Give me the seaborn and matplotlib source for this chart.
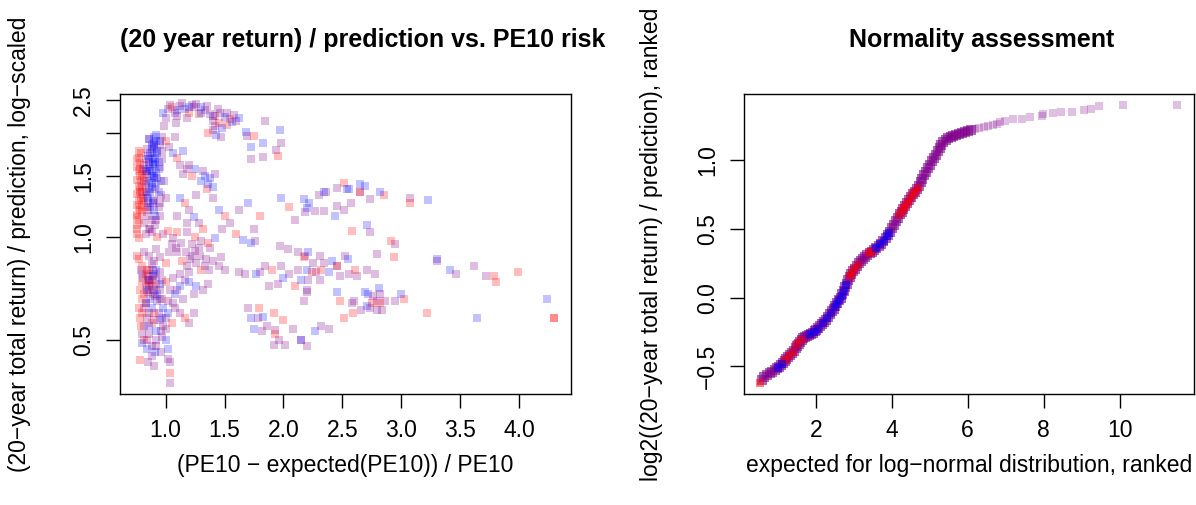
import matplotlib
matplotlib.use("Agg")
import matplotlib.pyplot as plt
import seaborn as sns
import pandas as pd

# ---------------- left panel: ratio vs. PE10 risk ----------------
left_red_x = [0.76, 0.77, 0.76, 0.78, 0.76, 0.77, 0.79, 0.76, 0.78, 0.77, 0.76, 0.78, 0.77, 0.76, 0.78, 0.77, 0.79,
              0.80, 0.81, 0.80, 0.82, 0.84, 0.83,
              0.76, 0.77, 0.78, 0.79, 0.80, 0.76, 0.78, 0.80, 0.82, 0.77,
              0.76, 0.77, 0.76, 0.76, 0.77,
              0.80, 0.83, 0.85, 0.80, 0.82, 0.88, 0.92, 0.86, 0.77, 0.80, 0.78, 0.90, 0.97, 1.05, 1.00,
              0.78, 0.80, 0.83, 0.86, 0.89, 0.84, 0.79, 0.82,
              0.93, 1.02, 1.10, 1.25, 1.36, 1.14, 1.30, 1.16, 1.00, 0.88,
              1.05, 1.20, 1.28, 1.42, 1.55, 1.45, 1.52, 1.75, 1.95, 1.00, 1.10, 1.36,
              1.35, 1.22, 1.16, 1.32, 1.50, 1.60, 2.05,
              2.58, 2.51, 2.65, 2.85, 3.07, 2.91, 2.17, 2.45, 2.32, 2.24, 2.61, 2.94, 2.48, 2.75, 2.82, 3.02,
              2.59, 3.22, 3.79, 3.80, 3.99, 4.30, 4.30, 2.51, 1.92, 2.00, 1.79, 1.93, 1.04, 0.78, 1.80, 2.10, 1.90]
left_red_y = [1.08, 1.12, 1.16, 1.20, 1.24, 1.28, 1.30, 1.33, 1.37, 1.41, 1.46, 1.50, 1.55, 1.60, 1.64, 1.70, 1.75,
              1.24, 1.30, 1.18, 1.27, 1.22, 1.35,
              1.14, 1.22, 1.35, 1.44, 1.52, 1.68, 1.58, 1.40, 1.48, 1.78,
              1.02, 0.99, 1.05, 0.88, 0.86,
              0.82, 0.78, 0.75, 0.74, 0.68, 0.75, 0.72, 0.70, 0.62, 0.60, 0.58, 0.60, 0.66, 0.56, 0.74,
              0.70, 0.66, 0.64, 0.73, 0.68, 0.80, 0.55, 0.50,
              1.00, 1.04, 1.03, 1.00, 0.96, 0.85, 0.80, 0.58, 0.84, 0.56,
              2.38, 2.30, 2.28, 2.25, 2.20, 2.15, 2.12, 1.96, 1.72, 1.90, 1.70, 2.00,
              1.38, 1.50, 1.25, 1.05, 1.15, 1.02, 1.22,
              1.04, 1.43, 1.35, 1.32, 1.25, 0.97, 0.87, 0.82, 0.80, 0.79, 0.80, 0.87, 0.65, 0.64, 0.64, 0.66,
              0.60, 0.60, 0.77, 0.74, 0.79, 0.58, 0.58, 0.58, 0.60, 0.57, 0.62, 0.52, 0.40, 0.436, 1.15, 0.72, 0.80]

left_blue_x = [0.85, 0.87, 0.88, 0.86, 0.90, 0.88, 0.86, 0.89, 0.90, 0.87, 0.90, 0.88, 0.92, 0.90, 0.94, 0.92, 0.85,
               0.90, 0.94, 0.86, 0.93, 0.88, 0.91, 0.96,
               0.84, 0.86, 0.88, 0.90, 0.92, 0.87, 0.89, 0.91, 0.85, 0.93, 0.88, 0.90, 0.86, 0.92, 0.89, 0.87,
               0.91, 0.94, 0.83, 0.95,
               0.98, 1.16, 1.30, 1.50, 1.62, 1.48, 1.43, 1.68, 1.83, 1.72, 1.97, 1.10, 1.20, 1.30, 1.40, 1.56,
               1.30, 1.33, 1.38, 1.40, 1.36, 1.06, 1.15, 1.25,
               1.12, 1.24, 1.45, 1.70, 1.98, 2.22, 1.66, 1.72, 1.42,
               0.90, 0.84, 0.93, 0.95, 0.87, 0.92, 0.84, 0.80, 1.02, 1.08, 1.20, 1.26, 0.98, 1.02, 1.12,
               0.86, 0.89, 0.92, 0.95, 0.83, 0.88, 0.97, 1.00, 0.91, 0.86,
               2.17, 2.34, 2.54, 2.56, 2.65, 2.69, 2.82, 3.23, 2.20, 2.44, 2.71, 2.21, 2.41, 2.55, 2.20, 2.39,
               2.45, 2.72, 2.69, 2.81, 3.00, 2.71, 3.30, 3.41, 4.24, 3.64, 2.27, 1.83, 1.75, 1.72, 1.77, 2.15,
               2.00, 2.15]
left_blue_y = [1.30, 1.35, 1.40, 1.45, 1.50, 1.55, 1.60, 1.65, 1.70, 1.75, 1.80, 1.85, 1.90, 1.95, 1.58, 1.42, 1.25,
               1.20, 1.35, 1.68, 1.75, 1.50, 1.62, 1.45,
               1.32, 1.38, 1.43, 1.48, 1.53, 1.57, 1.63, 1.68, 1.72, 1.78, 1.82, 1.88, 1.92, 1.98, 1.27, 1.22,
               1.15, 1.65, 1.55, 1.90,
               2.30, 2.36, 2.38, 2.24, 2.22, 2.08, 1.98, 2.02, 1.88, 1.82, 2.05, 2.34, 2.38, 2.30, 2.25, 2.16,
               1.45, 1.50, 1.48, 1.40, 1.42, 1.75, 1.78, 1.58,
               1.30, 1.14, 1.20, 1.25, 1.30, 1.25, 0.98, 0.96, 0.99,
               0.70, 0.70, 0.68, 0.73, 0.66, 0.53, 0.47, 0.49, 0.47, 0.68, 0.74, 0.72, 0.62, 0.60, 0.72,
               0.75, 0.77, 0.80, 0.66, 0.64, 0.62, 0.58, 0.50, 0.46, 0.55,
               1.29, 1.35, 1.38, 1.38, 1.42, 1.41, 1.35, 1.28, 1.21, 1.15, 1.08, 0.90, 0.85, 0.86, 0.80, 0.79,
               0.69, 0.68, 0.69, 0.71, 0.68, 0.63, 0.86, 0.80, 0.66, 0.58, 0.53, 0.585, 0.54, 0.58, 0.78, 0.75,
               0.76, 0.50]

left_purple_x = [0.82, 0.84, 0.86, 0.88, 0.91, 0.95, 0.83, 0.84, 0.82, 0.95, 0.97, 0.95, 0.84, 0.86, 0.97, 0.90, 0.83,
                 0.80, 0.82, 0.84, 0.86, 0.88, 0.90, 0.92, 0.94, 0.96, 0.81, 0.83, 0.85, 0.87, 0.89, 0.91, 0.93,
                 0.95, 0.97, 0.99, 1.00,
                 1.02, 1.08, 1.00, 1.10, 1.12, 1.22, 1.26, 1.33, 1.18, 1.38, 1.46, 1.58, 1.42, 1.40, 1.40, 1.47,
                 1.04, 1.14, 1.24, 1.35, 1.44, 1.52, 1.60, 0.99, 1.09,
                 1.69, 1.84, 1.94, 1.98, 1.83, 1.72,
                 1.03, 1.12, 1.08, 1.18, 1.42, 1.32, 1.20, 1.15, 1.20, 1.28, 1.18, 1.10, 1.26, 1.40, 1.55, 1.62,
                 1.48, 1.75, 2.10, 2.18,
                 0.88, 0.98, 1.06, 1.18, 1.30, 1.38, 1.22, 1.28, 1.76, 1.97, 2.04, 2.12, 2.18, 0.82, 0.86, 0.90,
                 0.95, 1.03, 0.92, 0.88, 1.10, 1.18, 1.22, 1.26, 1.34, 1.20, 1.40, 1.45, 1.50, 1.47, 1.62, 1.67,
                 1.80, 1.84, 1.95, 2.05, 2.20, 1.88, 1.98, 2.12,
                 1.05, 1.09, 1.13, 1.17, 1.21, 1.25, 1.29, 1.33, 1.37, 1.12, 1.16, 1.24,
                 0.86, 0.90, 0.85, 0.92, 0.80, 0.95, 0.88, 1.04, 1.06, 1.15, 1.32, 1.36, 0.84, 0.82, 0.95, 1.08,
                 0.86, 0.97, 1.00, 1.12, 1.20, 1.24, 0.88, 0.92, 0.96, 0.85, 0.90, 1.02, 1.04, 1.04, 1.86, 2.08,
                 2.20, 1.96, 1.82, 1.93, 2.01, 1.92, 1.70, 1.78,
                 0.79, 0.81, 0.83, 0.85, 0.87, 0.89, 0.91, 0.93, 0.95, 0.97, 0.82, 0.86, 0.90, 0.94, 0.98, 0.80,
                 0.84, 0.88, 0.92, 0.96, 1.00, 1.02, 1.06, 1.10,
                 2.30, 2.36, 2.45, 2.65, 2.73, 3.07, 2.27, 2.34, 2.45, 2.51, 2.57, 2.73, 2.95, 2.79, 2.31, 2.52,
                 2.25, 2.34, 2.45, 2.28, 2.48, 2.56, 2.62, 2.71, 2.78, 2.21, 2.31, 2.20, 2.76, 2.82, 2.17, 2.58,
                 2.60, 2.79, 2.86, 2.95, 2.66, 2.73, 2.79, 2.84, 2.32, 2.39, 3.30, 3.46, 3.62, 3.72, 2.15]
left_purple_y = [1.10, 1.15, 1.05, 1.12, 1.08, 1.15, 1.42, 1.52, 1.62, 1.25, 1.68, 1.85, 1.80, 1.92, 1.95, 1.28, 1.02,
                 1.35, 1.45, 1.55, 1.65, 1.75, 1.85, 1.12, 1.22, 1.32, 1.58, 1.68, 1.20, 1.05, 1.25, 1.38, 1.48,
                 1.60, 1.78, 1.45, 1.30,
                 2.35, 2.30, 2.22, 2.25, 2.40, 2.42, 2.44, 2.34, 2.22, 2.28, 2.30, 2.26, 2.10, 2.18, 2.05, 1.95,
                 2.42, 2.45, 2.38, 2.40, 2.36, 2.30, 2.18, 2.10, 2.14,
                 1.96, 2.17, 1.79, 1.87, 1.71, 1.69,
                 1.82, 1.62, 1.95, 1.58, 1.52, 1.55, 1.62, 1.52, 1.20, 1.10, 1.10, 1.15, 1.32, 1.30, 1.10, 1.20,
                 1.05, 1.05, 1.12, 1.18,
                 1.03, 1.02, 0.99, 1.03, 0.97, 0.93, 0.95, 0.93, 0.97, 0.94, 0.92, 0.90, 0.88, 0.90, 0.88, 0.85,
                 0.87, 0.90, 0.92, 0.83, 0.90, 0.82, 0.88, 0.84, 0.86, 0.79, 0.85, 0.82, 0.80, 0.87, 0.79, 0.78,
                 0.79, 0.82, 0.73, 0.78, 0.70, 0.72, 0.82, 0.80,
                 0.95, 0.93, 0.96, 0.90, 0.86, 0.91, 0.88, 0.82, 0.80, 0.78, 0.75, 0.68,
                 0.80, 0.78, 0.77, 0.76, 0.78, 0.79, 0.72, 0.70, 0.76, 0.66, 0.70, 0.73, 0.58, 0.55, 0.57, 0.62,
                 0.52, 0.51, 0.54, 0.60, 0.56, 0.60, 0.45, 0.48, 0.46, 0.43, 0.42, 0.44, 0.43, 0.375, 0.55, 0.54,
                 0.48, 0.50, 0.53, 0.535, 0.485, 0.485, 0.62, 0.58,
                 0.80, 0.76, 0.72, 0.69, 0.74, 0.80, 0.67, 0.65, 0.70, 0.75, 0.62, 0.60, 0.57, 0.60, 0.55, 0.52,
                 0.50, 0.48, 0.50, 0.53, 0.58, 0.65, 0.64, 0.70,
                 1.32, 1.35, 1.39, 1.35, 1.29, 1.30, 1.19, 1.19, 1.23, 1.20, 1.25, 1.03, 0.95, 0.89, 0.88, 0.88,
                 0.84, 0.84, 0.82, 0.79, 0.77, 0.78, 0.77, 0.80, 0.78, 0.75, 0.75, 0.69, 0.67, 0.68, 0.65, 0.64,
                 0.65, 0.65, 0.65, 0.65, 0.61, 0.62, 0.61, 0.61, 0.55, 0.54, 0.85, 0.78, 0.82, 0.77, 0.50]

# ---------------- right panel: ranked log2 ratio vs. log-normal expectation ----------------
right_purple_x = [0.58, 0.65, 0.72, 0.80, 0.86, 0.92, 0.98, 1.03, 1.08, 1.13, 1.18, 1.23, 1.28, 1.33, 1.38,
                  1.43, 1.47, 1.51, 1.55, 1.59, 1.63, 1.67, 1.72, 1.77, 1.82, 1.87, 1.92, 1.97, 2.02, 2.07,
                  2.12, 2.17, 2.22, 2.27, 2.32, 2.37, 2.42, 2.47, 2.52, 2.57, 2.62, 2.66, 2.70, 2.74, 2.78,
                  2.82, 2.86, 2.90, 2.94, 2.98, 3.03, 3.08, 3.13, 3.18, 3.24, 3.30, 3.36, 3.42, 3.48, 3.54,
                  3.60, 3.66, 3.72, 3.78, 3.84, 3.90, 3.96, 4.01, 4.06, 4.11, 4.16, 4.21, 4.26, 4.31, 4.36,
                  4.41, 4.46, 4.51, 4.56, 4.61, 4.66, 4.71, 4.76, 4.81, 4.86, 4.91, 4.96, 5.01, 5.06, 5.11,
                  5.16, 5.21, 5.26, 5.31, 5.36, 5.42, 5.48, 5.55, 5.62, 5.70, 5.78, 5.86, 5.94, 6.02, 6.10]
right_purple_y = [-0.60, -0.575, -0.56, -0.55, -0.54, -0.525, -0.515, -0.505, -0.49, -0.475, -0.46, -0.445, -0.43,
                  -0.415, -0.40, -0.385, -0.37, -0.35, -0.335, -0.32, -0.305, -0.295, -0.285, -0.277, -0.27,
                  -0.262, -0.255, -0.245, -0.235, -0.222, -0.21, -0.195, -0.178, -0.16, -0.14, -0.12, -0.10,
                  -0.08, -0.06, -0.04, -0.02, 0.0, 0.025, 0.05, 0.075, 0.10, 0.125, 0.15, 0.17, 0.19, 0.21,
                  0.23, 0.25, 0.265, 0.28, 0.295, 0.31, 0.322, 0.335, 0.348, 0.36, 0.375, 0.39, 0.41, 0.43,
                  0.455, 0.48, 0.505, 0.53, 0.555, 0.58, 0.605, 0.625, 0.645, 0.665, 0.685, 0.71, 0.73, 0.75,
                  0.77, 0.79, 0.815, 0.84, 0.865, 0.89, 0.915, 0.94, 0.965, 0.99, 1.015, 1.04, 1.065, 1.09,
                  1.11, 1.13, 1.148, 1.16, 1.168, 1.175, 1.183, 1.19, 1.197, 1.205, 1.213, 1.22]
right_red_x = [0.53, 1.20, 1.30, 1.40, 1.50, 1.60, 2.90, 2.96, 3.02, 3.10, 3.40, 3.46, 4.20, 4.26, 4.32,
               4.38, 4.44, 4.50, 4.56, 4.62, 4.68]
right_red_y = [-0.62, -0.455, -0.425, -0.395, -0.34, -0.31, 0.155, 0.18, 0.205, 0.235, 0.325, 0.335, 0.60,
               0.63, 0.65, 0.67, 0.695, 0.725, 0.75, 0.77, 0.795]
right_blue_x = [1.00, 1.10, 1.85, 1.95, 2.05, 2.20, 2.30, 2.40, 2.50, 2.56, 2.62, 2.68, 2.74, 2.80, 3.60,
                3.70, 3.80, 3.88, 3.94]
right_blue_y = [-0.51, -0.48, -0.265, -0.25, -0.23, -0.185, -0.15, -0.11, -0.07, -0.045, -0.02, 0.01, 0.05,
                0.09, 0.36, 0.39, 0.415, 0.445, 0.47]
right_tail_x = [6.20, 6.30, 6.42, 6.54, 6.66, 6.76, 6.85, 6.98, 7.20, 7.42, 7.64, 7.95, 7.99, 8.25, 8.46, 8.74,
                9.07, 9.24, 9.46, 10.08, 11.50]
right_tail_y = [1.228, 1.235, 1.242, 1.247, 1.252, 1.262, 1.274, 1.287, 1.299, 1.301, 1.314, 1.318, 1.336, 1.343,
                1.35, 1.352, 1.362, 1.374, 1.391, 1.399, 1.399]

RED = "#ff0000"
BLUE = "#0000ff"
PURPLE = "#80008c"

sns.set_theme(style="ticks")
plt.rcParams["font.family"] = ["Liberation Sans", "DejaVu Sans"]
plt.rcParams["axes.unicode_minus"] = True
plt.rcParams["text.color"] = "black"

fig = plt.figure(figsize=(11.96, 5.05), dpi=100)
ax1 = fig.add_axes([0.1003, 0.2198, 0.3774, 0.5931])
ax2 = fig.add_axes([0.6221, 0.2198, 0.3763, 0.5931])

SQ = 30


def dots(ax, xs, ys, color, alpha, size=SQ):
    df = pd.DataFrame({"x": xs, "y": ys})
    sns.scatterplot(data=df, x="x", y="y", ax=ax, marker="s", s=size, color=color,
                    alpha=alpha, linewidth=0, legend=False)


dots(ax1, left_purple_x, left_purple_y, PURPLE, 0.26)
dots(ax1, left_red_x, left_red_y, RED, 0.26)
dots(ax1, left_blue_x, left_blue_y, BLUE, 0.24)

# the dense middle of the ranked curve overlaps heavily, so it reads as a thick dark band
dots(ax2, right_tail_x, right_tail_y, PURPLE, 0.25)
dots(ax2, right_purple_x, right_purple_y, PURPLE, 0.6, size=44)
dots(ax2, right_red_x, right_red_y, RED, 0.5, size=40)
dots(ax2, right_blue_x, right_blue_y, BLUE, 0.5, size=40)

ax1.set_yscale("log")
ax1.set_xlim(0.612, 4.443)
ax1.set_ylim(0.348, 2.597)
ax1.set_xticks([1.0, 1.5, 2.0, 2.5, 3.0, 3.5, 4.0])
ax1.set_xticklabels(["1.0", "1.5", "2.0", "2.5", "3.0", "3.5", "4.0"])
ax1.set_yticks([0.5, 1.0, 1.5, 2.0, 2.5])
ax1.set_yticklabels(["0.5", "1.0", "1.5", "", "2.5"])
ax1.minorticks_off()

ax2.set_xlim(0.113, 11.96)
ax2.set_ylim(-0.701, 1.477)
ax2.set_xticks([2, 4, 6, 8, 10])
ax2.set_yticks([-0.5, 0.0, 0.5, 1.0])
ax2.set_yticklabels(["\u22120.5", "0.0", "0.5", "1.0"])

for ax in (ax1, ax2):
    ax.set_xlabel("")
    ax.set_ylabel("")
    for sp in ax.spines.values():
        sp.set_visible(True)
        sp.set_color("black")
        sp.set_linewidth(1.0)
    ax.tick_params(axis="both", direction="out", length=10, width=1.0, color="black",
                   labelsize=16.5, labelcolor="black", pad=8)
    ax.tick_params(axis="y", labelrotation=90)
    for lab in ax.get_yticklabels():
        lab.set_va("center")

fig.text(0.303, 0.921, "(20 year return) / prediction vs. PE10 risk", ha="center", va="center",
         fontsize=18, fontweight="bold")
fig.text(0.821, 0.921, "Normality assessment", ha="center", va="center", fontsize=18, fontweight="bold")
fig.text(0.289, 0.079, "(PE10 \u2212 expected(PE10)) / PE10", ha="center", va="center", fontsize=16.5)
fig.text(0.810, 0.079, "expected for log\u2212normal distribution, ranked", ha="center", va="center",
         fontsize=16.5)
fig.text(0.016, 0.517, "(20\u2212year total return) / prediction, log\u2212scaled", ha="center", va="center",
         rotation=90, fontsize=16.5)
fig.text(0.545, 0.517, "log2((20\u2212year total return) / prediction), ranked", ha="center", va="center",
         rotation=90, fontsize=16.5)

fig.savefig("out.png", dpi=100, facecolor="white")
